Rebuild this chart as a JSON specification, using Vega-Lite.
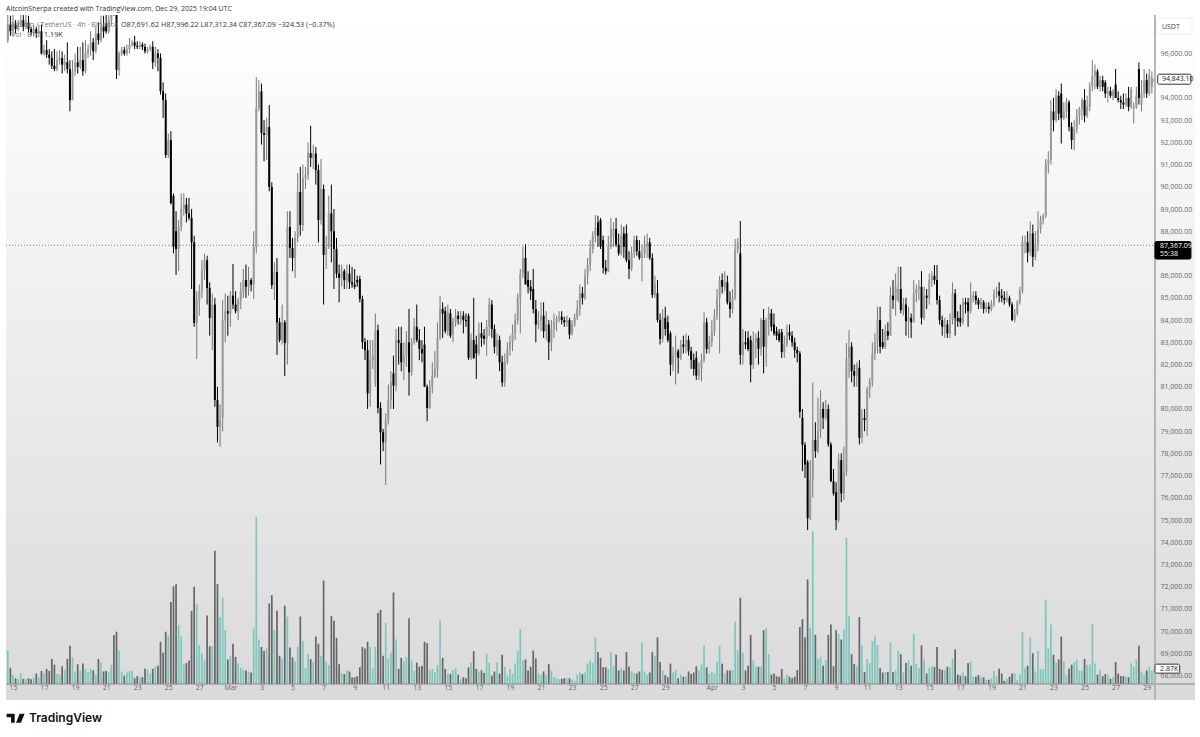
{"$schema":"https://vega.github.io/schema/vega-lite/v6.json","width":1189,"height":685,"padding":{"left":6,"top":15,"right":5,"bottom":37},"autosize":"none","background":"white","view":{"stroke":null},"title":{"text":"AltcoinSherpa created with TradingView.com, Dec 29, 2025 19:04 UTC","anchor":"start","frame":"group","offset":2,"fontSize":7,"font":"Open Sans","fontWeight":"normal","color":"#333333"},
"datasets":{"candles":[
{"t":"2025-02-14T16:00","o":96600,"h":98000,"l":96470,"c":97300,"v":6.4},
{"t":"2025-02-14T20:00","o":97300,"h":97700,"l":96800,"c":97000,"v":3.1},
{"t":"2025-02-15T00:00","o":97000,"h":97800,"l":96800,"c":97300,"v":1.7},
{"t":"2025-02-15T04:00","o":97300,"h":97500,"l":96900,"c":97100,"v":1.1},
{"t":"2025-02-15T08:00","o":97100,"h":97500,"l":97000,"c":97300,"v":1.0},
{"t":"2025-02-15T12:00","o":97300,"h":97900,"l":97200,"c":97500,"v":2.1},
{"t":"2025-02-15T16:00","o":97500,"h":97800,"l":97000,"c":97200,"v":1.0},
{"t":"2025-02-15T20:00","o":97200,"h":97800,"l":97100,"c":97400,"v":1.0},
{"t":"2025-02-16T00:00","o":97400,"h":97700,"l":96950,"c":97100,"v":1.1},
{"t":"2025-02-16T04:00","o":97100,"h":97200,"l":96800,"c":96950,"v":0.9},
{"t":"2025-02-16T08:00","o":96950,"h":97300,"l":96800,"c":97100,"v":1.3},
{"t":"2025-02-16T12:00","o":97100,"h":97200,"l":96700,"c":96900,"v":2.0},
{"t":"2025-02-16T16:00","o":96900,"h":97300,"l":96800,"c":97000,"v":1.3},
{"t":"2025-02-16T20:00","o":97000,"h":97300,"l":95950,"c":96000,"v":2.5},
{"t":"2025-02-17T00:00","o":96000,"h":96400,"l":95900,"c":96150,"v":2.0},
{"t":"2025-02-17T04:00","o":96150,"h":96600,"l":95800,"c":95950,"v":2.9},
{"t":"2025-02-17T08:00","o":95950,"h":96200,"l":95500,"c":95800,"v":2.5},
{"t":"2025-02-17T12:00","o":95800,"h":96100,"l":95300,"c":95450,"v":4.8},
{"t":"2025-02-17T16:00","o":95450,"h":96200,"l":95200,"c":95300,"v":3.7},
{"t":"2025-02-17T20:00","o":95300,"h":96100,"l":95200,"c":95700,"v":1.9},
{"t":"2025-02-18T00:00","o":95700,"h":96150,"l":95500,"c":95800,"v":1.8},
{"t":"2025-02-18T04:00","o":95800,"h":96100,"l":95100,"c":95500,"v":3.4},
{"t":"2025-02-18T08:00","o":95500,"h":95950,"l":95200,"c":95600,"v":2.7},
{"t":"2025-02-18T12:00","o":95600,"h":96500,"l":95100,"c":95300,"v":4.8},
{"t":"2025-02-18T16:00","o":95300,"h":95700,"l":93400,"c":93900,"v":7.3},
{"t":"2025-02-18T20:00","o":93900,"h":95700,"l":93900,"c":95200,"v":5.1},
{"t":"2025-02-19T00:00","o":95200,"h":96000,"l":95000,"c":95600,"v":2.4},
{"t":"2025-02-19T04:00","o":95600,"h":96300,"l":95100,"c":95400,"v":3.8},
{"t":"2025-02-19T08:00","o":95400,"h":96300,"l":95300,"c":95700,"v":2.6},
{"t":"2025-02-19T12:00","o":95700,"h":96500,"l":95000,"c":95200,"v":3.9},
{"t":"2025-02-19T16:00","o":95200,"h":96600,"l":95100,"c":96000,"v":2.9},
{"t":"2025-02-19T20:00","o":96000,"h":96400,"l":95800,"c":96200,"v":2.3},
{"t":"2025-02-20T00:00","o":96200,"h":97000,"l":95900,"c":96500,"v":2.9},
{"t":"2025-02-20T04:00","o":96500,"h":96700,"l":95700,"c":96100,"v":2.6},
{"t":"2025-02-20T08:00","o":96100,"h":97200,"l":96000,"c":96900,"v":1.8},
{"t":"2025-02-20T12:00","o":96900,"h":97400,"l":96400,"c":96600,"v":4.8},
{"t":"2025-02-20T16:00","o":96600,"h":97700,"l":96500,"c":97200,"v":4.1},
{"t":"2025-02-20T20:00","o":97200,"h":97700,"l":96700,"c":97000,"v":2.4},
{"t":"2025-02-21T00:00","o":97300,"h":97800,"l":96900,"c":97000,"v":2.5},
{"t":"2025-02-21T04:00","o":97000,"h":98000,"l":96900,"c":97500,"v":2.2},
{"t":"2025-02-21T08:00","o":97500,"h":98500,"l":97300,"c":98000,"v":3.7},
{"t":"2025-02-21T12:00","o":98200,"h":99000,"l":97700,"c":97900,"v":9.4},
{"t":"2025-02-21T16:00","o":98000,"h":98500,"l":94850,"c":95260,"v":10},
{"t":"2025-02-21T20:00","o":95260,"h":96100,"l":95000,"c":96000,"v":6.4},
{"t":"2025-02-22T00:00","o":96000,"h":96300,"l":95900,"c":96150,"v":2.4},
{"t":"2025-02-22T04:00","o":96150,"h":96300,"l":95900,"c":96000,"v":1.6},
{"t":"2025-02-22T08:00","o":96000,"h":96400,"l":95900,"c":96200,"v":2.2},
{"t":"2025-02-22T12:00","o":96200,"h":96700,"l":96000,"c":96400,"v":2.5},
{"t":"2025-02-22T16:00","o":96400,"h":96600,"l":96300,"c":96500,"v":2.5},
{"t":"2025-02-22T20:00","o":96500,"h":96800,"l":96200,"c":96350,"v":1.1},
{"t":"2025-02-23T00:00","o":96350,"h":96550,"l":96200,"c":96300,"v":1.5},
{"t":"2025-02-23T04:00","o":96300,"h":96550,"l":96200,"c":96400,"v":1.3},
{"t":"2025-02-23T08:00","o":96400,"h":96500,"l":96150,"c":96300,"v":1.3},
{"t":"2025-02-23T12:00","o":96300,"h":96450,"l":96000,"c":96100,"v":2.9},
{"t":"2025-02-23T16:00","o":96100,"h":96300,"l":96000,"c":96200,"v":2.8},
{"t":"2025-02-23T20:00","o":96200,"h":96400,"l":96100,"c":96300,"v":2.0},
{"t":"2025-02-24T00:00","o":96300,"h":96550,"l":95300,"c":95600,"v":2.9},
{"t":"2025-02-24T04:00","o":95600,"h":96300,"l":95400,"c":96000,"v":3.3},
{"t":"2025-02-24T08:00","o":96000,"h":96200,"l":95200,"c":95800,"v":3.5},
{"t":"2025-02-24T12:00","o":95800,"h":96000,"l":94150,"c":94300,"v":8.1},
{"t":"2025-02-24T16:00","o":94300,"h":94700,"l":93100,"c":93900,"v":6.0},
{"t":"2025-02-24T20:00","o":93900,"h":94200,"l":91300,"c":91430,"v":10},
{"t":"2025-02-25T00:00","o":91430,"h":92400,"l":91300,"c":92100,"v":9.3},
{"t":"2025-02-25T04:00","o":92100,"h":92500,"l":89200,"c":89270,"v":15.7},
{"t":"2025-02-25T08:00","o":89600,"h":89700,"l":87000,"c":87300,"v":18.7},
{"t":"2025-02-25T12:00","o":88000,"h":88900,"l":86030,"c":87200,"v":19.1},
{"t":"2025-02-25T16:00","o":87200,"h":88500,"l":86200,"c":88200,"v":11.3},
{"t":"2025-02-25T20:00","o":88200,"h":89700,"l":88000,"c":89000,"v":9.1},
{"t":"2025-02-26T00:00","o":89000,"h":89700,"l":88700,"c":89200,"v":3.7},
{"t":"2025-02-26T04:00","o":89200,"h":89500,"l":88400,"c":88800,"v":4.0},
{"t":"2025-02-26T08:00","o":88800,"h":89500,"l":88500,"c":88600,"v":4.5},
{"t":"2025-02-26T12:00","o":88600,"h":89000,"l":85400,"c":87500,"v":14},
{"t":"2025-02-26T16:00","o":87500,"h":87800,"l":83700,"c":83870,"v":18.6},
{"t":"2025-02-26T20:00","o":83870,"h":85300,"l":82250,"c":84900,"v":15.3},
{"t":"2025-02-27T00:00","o":84900,"h":85600,"l":84200,"c":85300,"v":7.5},
{"t":"2025-02-27T04:00","o":85300,"h":86700,"l":85000,"c":86250,"v":5.9},
{"t":"2025-02-27T08:00","o":86250,"h":87000,"l":85800,"c":86700,"v":4.5},
{"t":"2025-02-27T12:00","o":86700,"h":86900,"l":84700,"c":85450,"v":13.1},
{"t":"2025-02-27T16:00","o":85450,"h":85700,"l":83300,"c":84100,"v":7.2},
{"t":"2025-02-27T20:00","o":84100,"h":85200,"l":82650,"c":84700,"v":7.3},
{"t":"2025-02-28T00:00","o":84700,"h":85000,"l":80100,"c":80400,"v":25.5},
{"t":"2025-02-28T04:00","o":80400,"h":81000,"l":78500,"c":79200,"v":19.1},
{"t":"2025-02-28T08:00","o":79200,"h":80200,"l":78300,"c":79500,"v":12.8},
{"t":"2025-02-28T12:00","o":79600,"h":84900,"l":79000,"c":84000,"v":16.5},
{"t":"2025-02-28T16:00","o":84000,"h":85200,"l":83000,"c":84400,"v":10.3},
{"t":"2025-02-28T20:00","o":84400,"h":85100,"l":83300,"c":84300,"v":4.7},
{"t":"2025-03-01T00:00","o":84300,"h":85300,"l":83700,"c":85100,"v":5.4},
{"t":"2025-03-01T04:00","o":85100,"h":86530,"l":84500,"c":84700,"v":7.7},
{"t":"2025-03-01T08:00","o":84700,"h":85300,"l":84300,"c":84400,"v":5.2},
{"t":"2025-03-01T12:00","o":84400,"h":85000,"l":84000,"c":84900,"v":3.9},
{"t":"2025-03-01T16:00","o":84900,"h":85700,"l":84500,"c":85300,"v":3.1},
{"t":"2025-03-01T20:00","o":85300,"h":86300,"l":85000,"c":85800,"v":2.7},
{"t":"2025-03-02T00:00","o":85800,"h":86500,"l":85000,"c":85500,"v":2.6},
{"t":"2025-03-02T04:00","o":85500,"h":86400,"l":85100,"c":85800,"v":2.4},
{"t":"2025-03-02T08:00","o":85800,"h":85900,"l":85300,"c":85600,"v":2.2},
{"t":"2025-03-02T12:00","o":85600,"h":88000,"l":84950,"c":87300,"v":10.6},
{"t":"2025-03-02T16:00","o":87300,"h":94940,"l":87000,"c":93550,"v":32},
{"t":"2025-03-02T20:00","o":93550,"h":94800,"l":93400,"c":94300,"v":8.5},
{"t":"2025-03-03T00:00","o":94300,"h":94650,"l":91900,"c":92420,"v":7.1},
{"t":"2025-03-03T04:00","o":92420,"h":93000,"l":91150,"c":92330,"v":6.3},
{"t":"2025-03-03T08:00","o":92330,"h":93100,"l":91200,"c":92700,"v":6.8},
{"t":"2025-03-03T12:00","o":92700,"h":93680,"l":89800,"c":89990,"v":15.4},
{"t":"2025-03-03T16:00","o":89990,"h":90200,"l":85400,"c":85580,"v":17},
{"t":"2025-03-03T20:00","o":85580,"h":86600,"l":84900,"c":86170,"v":10.3},
{"t":"2025-03-04T00:00","o":86170,"h":86800,"l":82430,"c":83900,"v":14},
{"t":"2025-03-04T04:00","o":83900,"h":84100,"l":83000,"c":83100,"v":5.4},
{"t":"2025-03-04T08:00","o":83100,"h":84700,"l":82900,"c":83900,"v":4.8},
{"t":"2025-03-04T12:00","o":83900,"h":84000,"l":81480,"c":82970,"v":15},
{"t":"2025-03-04T16:00","o":82970,"h":88900,"l":82000,"c":88190,"v":12.9},
{"t":"2025-03-04T20:00","o":88190,"h":88900,"l":86800,"c":87240,"v":7},
{"t":"2025-03-05T00:00","o":87240,"h":87700,"l":86200,"c":86800,"v":5.1},
{"t":"2025-03-05T04:00","o":86800,"h":88000,"l":85900,"c":87700,"v":4.3},
{"t":"2025-03-05T08:00","o":87700,"h":90620,"l":87500,"c":89770,"v":7.1},
{"t":"2025-03-05T12:00","o":89770,"h":90890,"l":87800,"c":88280,"v":12.9},
{"t":"2025-03-05T16:00","o":88280,"h":91000,"l":88000,"c":90400,"v":8.2},
{"t":"2025-03-05T20:00","o":90400,"h":90900,"l":89900,"c":90530,"v":3.1},
{"t":"2025-03-06T00:00","o":90530,"h":92000,"l":90300,"c":91520,"v":5.7},
{"t":"2025-03-06T04:00","o":91520,"h":92750,"l":90900,"c":91300,"v":4.8},
{"t":"2025-03-06T08:00","o":91300,"h":91900,"l":90800,"c":91500,"v":4.2},
{"t":"2025-03-06T12:00","o":91500,"h":91800,"l":90100,"c":90750,"v":9.1},
{"t":"2025-03-06T16:00","o":90750,"h":91000,"l":87500,"c":88500,"v":7.7},
{"t":"2025-03-06T20:00","o":88500,"h":91250,"l":88300,"c":89900,"v":5.4},
{"t":"2025-03-07T00:00","o":89900,"h":90100,"l":84700,"c":86930,"v":19.8},
{"t":"2025-03-07T04:00","o":86930,"h":87800,"l":86300,"c":87300,"v":4.2},
{"t":"2025-03-07T08:00","o":87300,"h":89600,"l":87200,"c":88800,"v":3.6},
{"t":"2025-03-07T12:00","o":88800,"h":90100,"l":86600,"c":88000,"v":13},
{"t":"2025-03-07T16:00","o":88000,"h":89000,"l":85400,"c":87200,"v":12.1},
{"t":"2025-03-07T20:00","o":87200,"h":87700,"l":85900,"c":86100,"v":8.8},
{"t":"2025-03-08T00:00","o":86100,"h":86500,"l":84800,"c":85900,"v":3.8},
{"t":"2025-03-08T04:00","o":85900,"h":86500,"l":85500,"c":86200,"v":2.1},
{"t":"2025-03-08T08:00","o":86200,"h":86300,"l":85400,"c":85800,"v":1.9},
{"t":"2025-03-08T12:00","o":85800,"h":86500,"l":85400,"c":86100,"v":2.7},
{"t":"2025-03-08T16:00","o":86100,"h":86500,"l":85400,"c":85700,"v":2.4},
{"t":"2025-03-08T20:00","o":85700,"h":86400,"l":85450,"c":85600,"v":1.3},
{"t":"2025-03-09T00:00","o":85600,"h":86300,"l":85400,"c":85500,"v":1.3},
{"t":"2025-03-09T04:00","o":85800,"h":86000,"l":85500,"c":85700,"v":1.5},
{"t":"2025-03-09T08:00","o":85850,"h":86000,"l":84800,"c":84950,"v":3.2},
{"t":"2025-03-09T12:00","o":84950,"h":85100,"l":82700,"c":83010,"v":7.1},
{"t":"2025-03-09T16:00","o":83010,"h":83200,"l":82200,"c":82650,"v":6.8},
{"t":"2025-03-09T20:00","o":82650,"h":83100,"l":80000,"c":80700,"v":8.1},
{"t":"2025-03-10T00:00","o":80700,"h":83100,"l":80100,"c":82200,"v":7.1},
{"t":"2025-03-10T04:00","o":82200,"h":83100,"l":81800,"c":82400,"v":3},
{"t":"2025-03-10T08:00","o":81200,"h":84300,"l":81000,"c":83550,"v":7.1},
{"t":"2025-03-10T12:00","o":83550,"h":83800,"l":79800,"c":80050,"v":13.6},
{"t":"2025-03-10T16:00","o":80050,"h":80300,"l":77500,"c":78950,"v":14.2},
{"t":"2025-03-10T20:00","o":78950,"h":79100,"l":78100,"c":78500,"v":5.4},
{"t":"2025-03-11T00:00","o":78500,"h":79800,"l":76580,"c":79500,"v":11.7},
{"t":"2025-03-11T04:00","o":79500,"h":81100,"l":79300,"c":80400,"v":4.9},
{"t":"2025-03-11T08:00","o":80400,"h":81700,"l":80000,"c":81200,"v":6},
{"t":"2025-03-11T12:00","o":81600,"h":82400,"l":80000,"c":81050,"v":17.5},
{"t":"2025-03-11T16:00","o":81050,"h":83600,"l":80800,"c":83100,"v":8.5},
{"t":"2025-03-11T20:00","o":83100,"h":83700,"l":82000,"c":82970,"v":2.9},
{"t":"2025-03-12T00:00","o":82970,"h":83700,"l":81700,"c":82100,"v":5},
{"t":"2025-03-12T04:00","o":82100,"h":83000,"l":81300,"c":82400,"v":4.3},
{"t":"2025-03-12T08:00","o":82400,"h":83500,"l":81900,"c":83000,"v":5.2},
{"t":"2025-03-12T12:00","o":83000,"h":84500,"l":80600,"c":81650,"v":12.6},
{"t":"2025-03-12T16:00","o":81650,"h":83200,"l":81500,"c":83000,"v":4.5},
{"t":"2025-03-12T20:00","o":83000,"h":84100,"l":82900,"c":83700,"v":2.5},
{"t":"2025-03-13T00:00","o":83700,"h":84700,"l":83000,"c":83100,"v":4.1},
{"t":"2025-03-13T04:00","o":83100,"h":83600,"l":82200,"c":82700,"v":3.3},
{"t":"2025-03-13T08:00","o":82700,"h":83100,"l":82100,"c":82500,"v":3.5},
{"t":"2025-03-13T12:00","o":82900,"h":83700,"l":81000,"c":81000,"v":8.1},
{"t":"2025-03-13T16:00","o":81000,"h":81100,"l":79450,"c":80050,"v":7.8},
{"t":"2025-03-13T20:00","o":80050,"h":81300,"l":80000,"c":81000,"v":2.7},
{"t":"2025-03-14T00:00","o":81000,"h":82100,"l":80700,"c":81500,"v":2.9},
{"t":"2025-03-14T04:00","o":81500,"h":82600,"l":81400,"c":81800,"v":2.3},
{"t":"2025-03-14T08:00","o":81800,"h":83900,"l":81400,"c":83200,"v":3.6},
{"t":"2025-03-14T12:00","o":83200,"h":85100,"l":83100,"c":84500,"v":12.1},
{"t":"2025-03-14T16:00","o":84500,"h":84800,"l":83200,"c":84300,"v":5},
{"t":"2025-03-14T20:00","o":84400,"h":84600,"l":83400,"c":83500,"v":2.9},
{"t":"2025-03-15T00:00","o":83500,"h":84700,"l":83300,"c":84350,"v":2},
{"t":"2025-03-15T04:00","o":84300,"h":84500,"l":83200,"c":83300,"v":1.9},
{"t":"2025-03-15T08:00","o":83400,"h":84100,"l":83000,"c":83900,"v":2.7},
{"t":"2025-03-15T12:00","o":83900,"h":84500,"l":83700,"c":84200,"v":3},
{"t":"2025-03-15T16:00","o":84200,"h":84400,"l":83800,"c":84050,"v":1.8},
{"t":"2025-03-15T20:00","o":84050,"h":84400,"l":83800,"c":84200,"v":0.9},
{"t":"2025-03-16T00:00","o":84200,"h":84400,"l":83400,"c":84000,"v":1.3},
{"t":"2025-03-16T04:00","o":84000,"h":84300,"l":83700,"c":83950,"v":1.1},
{"t":"2025-03-16T08:00","o":84200,"h":84300,"l":82200,"c":82300,"v":3.2},
{"t":"2025-03-16T12:00","o":82300,"h":83400,"l":82200,"c":83100,"v":4.1},
{"t":"2025-03-16T16:00","o":83100,"h":85000,"l":82250,"c":82300,"v":6.3},
{"t":"2025-03-16T20:00","o":82900,"h":83300,"l":81350,"c":82500,"v":2.9},
{"t":"2025-03-17T00:00","o":82500,"h":83900,"l":82400,"c":83400,"v":2.4},
{"t":"2025-03-17T04:00","o":83400,"h":83900,"l":82800,"c":83200,"v":2.6},
{"t":"2025-03-17T08:00","o":83300,"h":83600,"l":82900,"c":83150,"v":2.1},
{"t":"2025-03-17T12:00","o":83150,"h":84000,"l":82400,"c":83700,"v":5.8},
{"t":"2025-03-17T16:00","o":83700,"h":85000,"l":83300,"c":84700,"v":4.1},
{"t":"2025-03-17T20:00","o":84700,"h":84900,"l":83200,"c":83600,"v":1.6},
{"t":"2025-03-18T00:00","o":83600,"h":83800,"l":82500,"c":82800,"v":2.4},
{"t":"2025-03-18T04:00","o":82800,"h":83400,"l":82400,"c":83100,"v":4.1},
{"t":"2025-03-18T08:00","o":83100,"h":83300,"l":81700,"c":82100,"v":2},
{"t":"2025-03-18T12:00","o":82100,"h":82400,"l":81000,"c":81200,"v":5.6},
{"t":"2025-03-18T16:00","o":81200,"h":82500,"l":81000,"c":82100,"v":3.3},
{"t":"2025-03-18T20:00","o":82100,"h":83000,"l":82000,"c":82700,"v":1.6},
{"t":"2025-03-19T00:00","o":82700,"h":83300,"l":82400,"c":83000,"v":2.9},
{"t":"2025-03-19T04:00","o":83000,"h":83800,"l":82600,"c":83400,"v":2},
{"t":"2025-03-19T08:00","o":83400,"h":84300,"l":83100,"c":84000,"v":3.9},
{"t":"2025-03-19T12:00","o":84000,"h":85200,"l":83800,"c":85000,"v":6.3},
{"t":"2025-03-19T16:00","o":85000,"h":86300,"l":83400,"c":86100,"v":10.5},
{"t":"2025-03-19T20:00","o":86100,"h":87300,"l":85900,"c":86800,"v":4.5},
{"t":"2025-03-20T00:00","o":86800,"h":87420,"l":85600,"c":85600,"v":4.7},
{"t":"2025-03-20T04:00","o":85800,"h":86200,"l":85200,"c":85500,"v":2.6},
{"t":"2025-03-20T08:00","o":85500,"h":85800,"l":84900,"c":85300,"v":3.3},
{"t":"2025-03-20T12:00","o":85400,"h":86300,"l":84300,"c":84500,"v":6.4},
{"t":"2025-03-20T16:00","o":84500,"h":84900,"l":83000,"c":83800,"v":4.9},
{"t":"2025-03-20T20:00","o":83800,"h":84400,"l":83600,"c":84000,"v":2},
{"t":"2025-03-21T00:00","o":84000,"h":84800,"l":83500,"c":84200,"v":1.7},
{"t":"2025-03-21T04:00","o":84200,"h":84800,"l":83200,"c":83500,"v":2.4},
{"t":"2025-03-21T08:00","o":83500,"h":84400,"l":83100,"c":83800,"v":1.7},
{"t":"2025-03-21T12:00","o":83800,"h":84000,"l":82200,"c":83000,"v":3.8},
{"t":"2025-03-21T16:00","o":83000,"h":84000,"l":82600,"c":83600,"v":2.5},
{"t":"2025-03-21T20:00","o":83600,"h":84300,"l":83200,"c":83900,"v":1.4},
{"t":"2025-03-22T00:00","o":83900,"h":84200,"l":83500,"c":84050,"v":1.1},
{"t":"2025-03-22T04:00","o":84050,"h":84400,"l":83900,"c":84150,"v":0.9},
{"t":"2025-03-22T08:00","o":84150,"h":84400,"l":83800,"c":84000,"v":1},
{"t":"2025-03-22T12:00","o":84000,"h":84150,"l":83700,"c":83900,"v":1.1},
{"t":"2025-03-22T16:00","o":83900,"h":84200,"l":83700,"c":84000,"v":1.1},
{"t":"2025-03-22T20:00","o":84000,"h":84100,"l":83150,"c":83350,"v":1.1},
{"t":"2025-03-23T00:00","o":83400,"h":84000,"l":83300,"c":83800,"v":0.8},
{"t":"2025-03-23T04:00","o":83800,"h":84300,"l":83700,"c":84100,"v":0.6},
{"t":"2025-03-23T08:00","o":84100,"h":84900,"l":84000,"c":84500,"v":1.8},
{"t":"2025-03-23T12:00","o":84500,"h":85600,"l":84200,"c":85200,"v":2.2},
{"t":"2025-03-23T16:00","o":85200,"h":85500,"l":84700,"c":85000,"v":1.9},
{"t":"2025-03-23T20:00","o":85000,"h":86300,"l":84900,"c":86000,"v":2.2},
{"t":"2025-03-24T00:00","o":86000,"h":86800,"l":85600,"c":86500,"v":3.9},
{"t":"2025-03-24T04:00","o":86500,"h":87600,"l":86200,"c":87200,"v":4.5},
{"t":"2025-03-24T08:00","o":87200,"h":88000,"l":87000,"c":87800,"v":4},
{"t":"2025-03-24T12:00","o":87800,"h":88730,"l":87500,"c":88150,"v":8.9},
{"t":"2025-03-24T16:00","o":88400,"h":88700,"l":87300,"c":87800,"v":6.1},
{"t":"2025-03-24T20:00","o":88500,"h":88600,"l":87200,"c":87300,"v":5},
{"t":"2025-03-25T00:00","o":87600,"h":87800,"l":86100,"c":86350,"v":3.2},
{"t":"2025-03-25T04:00","o":86350,"h":86700,"l":86050,"c":86200,"v":3.2},
{"t":"2025-03-25T08:00","o":86200,"h":87800,"l":86150,"c":87300,"v":2.9},
{"t":"2025-03-25T12:00","o":87300,"h":88600,"l":87200,"c":88100,"v":6.1},
{"t":"2025-03-25T16:00","o":87700,"h":88400,"l":87300,"c":88100,"v":3.5},
{"t":"2025-03-25T20:00","o":88100,"h":88600,"l":87300,"c":87400,"v":5.6},
{"t":"2025-03-26T00:00","o":87400,"h":87900,"l":86900,"c":87000,"v":2.6},
{"t":"2025-03-26T04:00","o":87000,"h":88300,"l":86900,"c":87800,"v":3.1},
{"t":"2025-03-26T08:00","o":87900,"h":88200,"l":86800,"c":87300,"v":2.6},
{"t":"2025-03-26T12:00","o":87900,"h":88300,"l":86600,"c":86700,"v":6.1},
{"t":"2025-03-26T16:00","o":86700,"h":87100,"l":85850,"c":86300,"v":3.3},
{"t":"2025-03-26T20:00","o":86300,"h":87300,"l":86200,"c":87000,"v":2.4},
{"t":"2025-03-27T00:00","o":87000,"h":87800,"l":86800,"c":87600,"v":2.1},
{"t":"2025-03-27T04:00","o":87600,"h":87800,"l":86900,"c":87100,"v":2},
{"t":"2025-03-27T08:00","o":87100,"h":87600,"l":86700,"c":86800,"v":2.4},
{"t":"2025-03-27T12:00","o":86800,"h":87400,"l":85750,"c":87000,"v":8},
{"t":"2025-03-27T16:00","o":87000,"h":87800,"l":86800,"c":87300,"v":2.4},
{"t":"2025-03-27T20:00","o":87300,"h":87900,"l":86800,"c":87500,"v":1.7},
{"t":"2025-03-28T00:00","o":87500,"h":87700,"l":86700,"c":86800,"v":2.2},
{"t":"2025-03-28T04:00","o":86790,"h":87000,"l":85000,"c":85130,"v":6.1},
{"t":"2025-03-28T08:00","o":85130,"h":86000,"l":85000,"c":85600,"v":5.4},
{"t":"2025-03-28T12:00","o":85220,"h":85800,"l":83900,"c":84000,"v":8.9},
{"t":"2025-03-28T16:00","o":84000,"h":84300,"l":82900,"c":83150,"v":4.2},
{"t":"2025-03-28T20:00","o":83150,"h":84500,"l":83000,"c":84100,"v":2.6},
{"t":"2025-03-29T00:00","o":84100,"h":84600,"l":83300,"c":83600,"v":1.7},
{"t":"2025-03-29T04:00","o":83900,"h":84200,"l":83000,"c":83100,"v":1.3},
{"t":"2025-03-29T08:00","o":83400,"h":83500,"l":81500,"c":82000,"v":3.9},
{"t":"2025-03-29T12:00","o":82000,"h":82800,"l":81700,"c":82400,"v":2.2},
{"t":"2025-03-29T16:00","o":82400,"h":83300,"l":81100,"c":82600,"v":2.7},
{"t":"2025-03-29T20:00","o":82600,"h":82700,"l":81600,"c":82300,"v":1.1},
{"t":"2025-03-30T00:00","o":82300,"h":83100,"l":82200,"c":82900,"v":1.8},
{"t":"2025-03-30T04:00","o":82900,"h":83300,"l":82500,"c":82800,"v":1.4},
{"t":"2025-03-30T08:00","o":82800,"h":83400,"l":82500,"c":83100,"v":1.5},
{"t":"2025-03-30T12:00","o":83100,"h":83300,"l":82400,"c":82600,"v":2.4},
{"t":"2025-03-30T16:00","o":82600,"h":82800,"l":81800,"c":82200,"v":1.9},
{"t":"2025-03-30T20:00","o":82200,"h":82500,"l":81500,"c":81800,"v":2.2},
{"t":"2025-03-31T00:00","o":82300,"h":82600,"l":81310,"c":81500,"v":3.4},
{"t":"2025-03-31T04:00","o":81500,"h":82100,"l":81300,"c":81800,"v":2.6},
{"t":"2025-03-31T08:00","o":81800,"h":82500,"l":81250,"c":82200,"v":3.7},
{"t":"2025-03-31T12:00","o":82200,"h":84350,"l":82100,"c":83900,"v":7.4},
{"t":"2025-03-31T16:00","o":83900,"h":84100,"l":82500,"c":82700,"v":3.2},
{"t":"2025-03-31T20:00","o":82700,"h":83300,"l":82500,"c":83000,"v":2},
{"t":"2025-04-01T00:00","o":83000,"h":84000,"l":82800,"c":83500,"v":2.3},
{"t":"2025-04-01T04:00","o":83500,"h":84500,"l":83300,"c":84200,"v":2},
{"t":"2025-04-01T08:00","o":84200,"h":85400,"l":84000,"c":85000,"v":4.3},
{"t":"2025-04-01T12:00","o":85000,"h":86000,"l":82500,"c":85800,"v":7.3},
{"t":"2025-04-01T16:00","o":85800,"h":86100,"l":85200,"c":85500,"v":3.9},
{"t":"2025-04-01T20:00","o":85500,"h":86200,"l":85300,"c":85700,"v":2},
{"t":"2025-04-02T00:00","o":85700,"h":86000,"l":84700,"c":84800,"v":2.6},
{"t":"2025-04-02T04:00","o":84800,"h":85300,"l":84100,"c":84500,"v":2.6},
{"t":"2025-04-02T08:00","o":84500,"h":85400,"l":84300,"c":85000,"v":2.7},
{"t":"2025-04-02T12:00","o":85000,"h":87650,"l":84900,"c":87200,"v":11.9},
{"t":"2025-04-02T16:00","o":87200,"h":87700,"l":87000,"c":87500,"v":6.5},
{"t":"2025-04-02T20:00","o":87000,"h":88460,"l":82000,"c":82430,"v":16.5},
{"t":"2025-04-03T00:00","o":82430,"h":83600,"l":82000,"c":83000,"v":6},
{"t":"2025-04-03T04:00","o":83000,"h":83500,"l":82700,"c":82900,"v":2.6},
{"t":"2025-04-03T08:00","o":83200,"h":83500,"l":82600,"c":82700,"v":3.5},
{"t":"2025-04-03T12:00","o":83100,"h":83300,"l":81200,"c":81980,"v":9.4},
{"t":"2025-04-03T16:00","o":81980,"h":83500,"l":81800,"c":83000,"v":4.5},
{"t":"2025-04-03T20:00","o":83000,"h":83400,"l":82300,"c":83200,"v":3.3},
{"t":"2025-04-04T00:00","o":83200,"h":83500,"l":82000,"c":82700,"v":3.3},
{"t":"2025-04-04T04:00","o":82700,"h":84100,"l":82400,"c":84000,"v":3.3},
{"t":"2025-04-04T08:00","o":84000,"h":84500,"l":81600,"c":82800,"v":10.3},
{"t":"2025-04-04T12:00","o":82800,"h":84100,"l":81900,"c":84000,"v":10.7},
{"t":"2025-04-04T16:00","o":84000,"h":84600,"l":83300,"c":84300,"v":5.7},
{"t":"2025-04-04T20:00","o":84300,"h":84500,"l":83500,"c":83700,"v":1.8},
{"t":"2025-04-05T00:00","o":83800,"h":84300,"l":83300,"c":83400,"v":2},
{"t":"2025-04-05T04:00","o":83500,"h":83700,"l":83100,"c":83300,"v":1.5},
{"t":"2025-04-05T08:00","o":83400,"h":83600,"l":83000,"c":83100,"v":1.4},
{"t":"2025-04-05T12:00","o":83460,"h":83600,"l":82300,"c":82560,"v":2.9},
{"t":"2025-04-05T16:00","o":82560,"h":83300,"l":82300,"c":82900,"v":1.1},
{"t":"2025-04-05T20:00","o":82900,"h":83800,"l":82800,"c":83450,"v":1.8},
{"t":"2025-04-06T00:00","o":83450,"h":83800,"l":83100,"c":83300,"v":1.4},
{"t":"2025-04-06T04:00","o":83300,"h":83500,"l":82800,"c":83000,"v":1.1},
{"t":"2025-04-06T08:00","o":83000,"h":83200,"l":82300,"c":82650,"v":1.4},
{"t":"2025-04-06T12:00","o":82650,"h":82800,"l":82100,"c":82500,"v":2.7},
{"t":"2025-04-06T16:00","o":82500,"h":82600,"l":79600,"c":79870,"v":10.9},
{"t":"2025-04-06T20:00","o":79600,"h":80000,"l":77200,"c":78380,"v":12.4},
{"t":"2025-04-07T00:00","o":78380,"h":78500,"l":76900,"c":77500,"v":8.9},
{"t":"2025-04-07T04:00","o":77610,"h":77700,"l":74550,"c":75090,"v":20},
{"t":"2025-04-07T08:00","o":75090,"h":77700,"l":75000,"c":76800,"v":10.7},
{"t":"2025-04-07T12:00","o":76800,"h":81200,"l":76000,"c":78600,"v":29.2},
{"t":"2025-04-07T16:00","o":78600,"h":79400,"l":77800,"c":78100,"v":9.4},
{"t":"2025-04-07T20:00","o":78100,"h":80500,"l":78000,"c":79000,"v":4.8},
{"t":"2025-04-08T00:00","o":79000,"h":80850,"l":78700,"c":80000,"v":5.2},
{"t":"2025-04-08T04:00","o":80000,"h":80300,"l":79100,"c":79600,"v":3.5},
{"t":"2025-04-08T08:00","o":79600,"h":80400,"l":79500,"c":80000,"v":4.6},
{"t":"2025-04-08T12:00","o":80000,"h":80200,"l":78300,"c":78400,"v":9.4},
{"t":"2025-04-08T16:00","o":78400,"h":78500,"l":76700,"c":76750,"v":11.4},
{"t":"2025-04-08T20:00","o":76750,"h":77300,"l":76100,"c":76200,"v":3.4},
{"t":"2025-04-09T00:00","o":76250,"h":76700,"l":74550,"c":75000,"v":10.3},
{"t":"2025-04-09T04:00","o":75000,"h":78000,"l":74900,"c":77700,"v":9.6},
{"t":"2025-04-09T08:00","o":77700,"h":78000,"l":75800,"c":76200,"v":8.5},
{"t":"2025-04-09T12:00","o":76200,"h":78300,"l":75900,"c":77200,"v":10.5},
{"t":"2025-04-09T16:00","o":77200,"h":82970,"l":77000,"c":82300,"v":28},
{"t":"2025-04-09T20:00","o":82300,"h":83550,"l":81400,"c":82800,"v":13},
{"t":"2025-04-10T00:00","o":82800,"h":83000,"l":81200,"c":81700,"v":5.7},
{"t":"2025-04-10T04:00","o":81700,"h":82000,"l":81000,"c":81500,"v":3.8},
{"t":"2025-04-10T08:00","o":81500,"h":82100,"l":81000,"c":82000,"v":3.4},
{"t":"2025-04-10T12:00","o":81850,"h":82200,"l":78400,"c":78700,"v":12.8},
{"t":"2025-04-10T16:00","o":78700,"h":80000,"l":78450,"c":79600,"v":7.3},
{"t":"2025-04-10T20:00","o":79600,"h":80000,"l":79000,"c":79500,"v":2.3},
{"t":"2025-04-11T00:00","o":79500,"h":81000,"l":78800,"c":80900,"v":4.8},
{"t":"2025-04-11T04:00","o":80900,"h":81400,"l":80500,"c":81250,"v":4},
{"t":"2025-04-11T08:00","o":81250,"h":83000,"l":81000,"c":82500,"v":8.2},
{"t":"2025-04-11T12:00","o":82500,"h":83400,"l":82200,"c":83000,"v":9.1},
{"t":"2025-04-11T16:00","o":83000,"h":84600,"l":82500,"c":84000,"v":7.4},
{"t":"2025-04-11T20:00","o":84000,"h":84600,"l":82500,"c":82800,"v":3},
{"t":"2025-04-12T00:00","o":83000,"h":83600,"l":82700,"c":82800,"v":2.2},
{"t":"2025-04-12T04:00","o":82800,"h":83800,"l":82700,"c":83500,"v":2.3},
{"t":"2025-04-12T08:00","o":83500,"h":83900,"l":83100,"c":83300,"v":2.3},
{"t":"2025-04-12T12:00","o":83300,"h":85500,"l":83300,"c":85100,"v":8},
{"t":"2025-04-12T16:00","o":85100,"h":85800,"l":84500,"c":84900,"v":2.3},
{"t":"2025-04-12T20:00","o":84900,"h":86100,"l":84200,"c":85500,"v":2.6},
{"t":"2025-04-13T00:00","o":84900,"h":86400,"l":84800,"c":85400,"v":6.4},
{"t":"2025-04-13T04:00","o":85400,"h":86400,"l":84300,"c":84450,"v":5.7},
{"t":"2025-04-13T08:00","o":84450,"h":85000,"l":84200,"c":84700,"v":2.2},
{"t":"2025-04-13T12:00","o":84700,"h":85000,"l":83300,"c":83950,"v":4},
{"t":"2025-04-13T16:00","o":83950,"h":84600,"l":83200,"c":84100,"v":4.4},
{"t":"2025-04-13T20:00","o":84100,"h":84300,"l":83200,"c":83900,"v":3.5},
{"t":"2025-04-14T00:00","o":83900,"h":85800,"l":83900,"c":85200,"v":9.6},
{"t":"2025-04-14T04:00","o":85200,"h":85600,"l":84800,"c":85400,"v":3.9},
{"t":"2025-04-14T08:00","o":85400,"h":85800,"l":84900,"c":85500,"v":3},
{"t":"2025-04-14T12:00","o":85500,"h":86200,"l":83800,"c":84100,"v":7.4},
{"t":"2025-04-14T16:00","o":84100,"h":85500,"l":84000,"c":85100,"v":4.7},
{"t":"2025-04-14T20:00","o":85100,"h":85400,"l":84500,"c":85000,"v":2},
{"t":"2025-04-15T00:00","o":85000,"h":86100,"l":84700,"c":85800,"v":3.1},
{"t":"2025-04-15T04:00","o":85800,"h":86200,"l":85500,"c":86000,"v":3.4},
{"t":"2025-04-15T08:00","o":86000,"h":86480,"l":85600,"c":85800,"v":3.3},
{"t":"2025-04-15T12:00","o":85800,"h":86480,"l":84700,"c":84900,"v":7.1},
{"t":"2025-04-15T16:00","o":84900,"h":85100,"l":83800,"c":84000,"v":2.9},
{"t":"2025-04-15T20:00","o":84000,"h":84200,"l":83300,"c":83700,"v":2.7},
{"t":"2025-04-16T00:00","o":83700,"h":84100,"l":83200,"c":83800,"v":2.7},
{"t":"2025-04-16T04:00","o":83800,"h":84000,"l":83200,"c":83400,"v":3.3},
{"t":"2025-04-16T08:00","o":83400,"h":84300,"l":83200,"c":84000,"v":3.1},
{"t":"2025-04-16T12:00","o":84000,"h":85700,"l":83800,"c":85200,"v":4.8},
{"t":"2025-04-16T16:00","o":85200,"h":85400,"l":83300,"c":84100,"v":6.6},
{"t":"2025-04-16T20:00","o":84100,"h":84400,"l":83700,"c":83950,"v":1.8},
{"t":"2025-04-17T00:00","o":84100,"h":84700,"l":83700,"c":83900,"v":1.6},
{"t":"2025-04-17T04:00","o":83900,"h":85000,"l":83800,"c":84800,"v":2.2},
{"t":"2025-04-17T08:00","o":84800,"h":85000,"l":84300,"c":84700,"v":1.5},
{"t":"2025-04-17T12:00","o":84800,"h":85000,"l":83700,"c":84400,"v":4},
{"t":"2025-04-17T16:00","o":84400,"h":85700,"l":84300,"c":85000,"v":4.3},
{"t":"2025-04-17T20:00","o":85000,"h":85300,"l":84800,"c":85100,"v":1.4},
{"t":"2025-04-18T00:00","o":85100,"h":85300,"l":84700,"c":84900,"v":1.4},
{"t":"2025-04-18T04:00","o":84900,"h":85000,"l":84500,"c":84700,"v":1.7},
{"t":"2025-04-18T08:00","o":84700,"h":85000,"l":84500,"c":84800,"v":1.3},
{"t":"2025-04-18T12:00","o":84800,"h":84900,"l":84300,"c":84500,"v":1.3},
{"t":"2025-04-18T16:00","o":84500,"h":84800,"l":84350,"c":84600,"v":0.8},
{"t":"2025-04-18T20:00","o":84600,"h":84800,"l":84300,"c":84500,"v":0.8},
{"t":"2025-04-19T00:00","o":84500,"h":84900,"l":84400,"c":84700,"v":1.1},
{"t":"2025-04-19T04:00","o":84700,"h":85400,"l":84600,"c":85200,"v":2.5},
{"t":"2025-04-19T08:00","o":85200,"h":85500,"l":85000,"c":85300,"v":1.5},
{"t":"2025-04-19T12:00","o":85300,"h":85700,"l":84800,"c":85100,"v":2.9},
{"t":"2025-04-19T16:00","o":85100,"h":85400,"l":84800,"c":85000,"v":2},
{"t":"2025-04-19T20:00","o":85000,"h":85300,"l":84700,"c":84900,"v":0.6},
{"t":"2025-04-20T00:00","o":84900,"h":85300,"l":84800,"c":85000,"v":1},
{"t":"2025-04-20T04:00","o":85000,"h":85100,"l":84600,"c":84700,"v":1.4},
{"t":"2025-04-20T08:00","o":84700,"h":84800,"l":83950,"c":84000,"v":2},
{"t":"2025-04-20T12:00","o":84000,"h":84500,"l":83900,"c":84300,"v":2},
{"t":"2025-04-20T16:00","o":84300,"h":84900,"l":84200,"c":84800,"v":0.8},
{"t":"2025-04-20T20:00","o":84800,"h":85500,"l":84700,"c":85300,"v":1.8},
{"t":"2025-04-21T00:00","o":85300,"h":87800,"l":85200,"c":87500,"v":10},
{"t":"2025-04-21T04:00","o":87500,"h":87800,"l":87000,"c":87530,"v":3.1},
{"t":"2025-04-21T08:00","o":87500,"h":88000,"l":86600,"c":87050,"v":3.5},
{"t":"2025-04-21T12:00","o":87050,"h":88450,"l":86900,"c":87900,"v":8.9},
{"t":"2025-04-21T16:00","o":87900,"h":88300,"l":86400,"c":86840,"v":5.9},
{"t":"2025-04-21T20:00","o":86840,"h":88000,"l":86700,"c":87450,"v":2.4},
{"t":"2025-04-22T00:00","o":87450,"h":88900,"l":87100,"c":88100,"v":6.3},
{"t":"2025-04-22T04:00","o":88100,"h":88700,"l":87900,"c":88500,"v":2.9},
{"t":"2025-04-22T08:00","o":88500,"h":88800,"l":88300,"c":88700,"v":2.8},
{"t":"2025-04-22T12:00","o":88700,"h":91250,"l":88600,"c":91050,"v":16.1},
{"t":"2025-04-22T16:00","o":91050,"h":91600,"l":90600,"c":91200,"v":6.8},
{"t":"2025-04-22T20:00","o":91200,"h":93900,"l":91000,"c":93400,"v":11.4},
{"t":"2025-04-23T00:00","o":93400,"h":94000,"l":92500,"c":93000,"v":5.6},
{"t":"2025-04-23T04:00","o":93000,"h":94400,"l":92900,"c":94100,"v":4.1},
{"t":"2025-04-23T08:00","o":94100,"h":94300,"l":93000,"c":93300,"v":4.7},
{"t":"2025-04-23T12:00","o":94200,"h":94650,"l":91950,"c":93100,"v":9.1},
{"t":"2025-04-23T16:00","o":93100,"h":93800,"l":93000,"c":93400,"v":4.3},
{"t":"2025-04-23T20:00","o":93400,"h":94000,"l":93100,"c":93800,"v":1.7},
{"t":"2025-04-24T00:00","o":93800,"h":93900,"l":92500,"c":92700,"v":2.9},
{"t":"2025-04-24T04:00","o":92700,"h":92900,"l":91700,"c":92100,"v":3.7},
{"t":"2025-04-24T08:00","o":92100,"h":93000,"l":91650,"c":92600,"v":4.2},
{"t":"2025-04-24T12:00","o":92600,"h":93500,"l":92400,"c":93200,"v":4.7},
{"t":"2025-04-24T16:00","o":93200,"h":93600,"l":92800,"c":93500,"v":2.6},
{"t":"2025-04-24T20:00","o":93500,"h":94000,"l":93000,"c":93900,"v":2.6},
{"t":"2025-04-25T00:00","o":93900,"h":94400,"l":92900,"c":93200,"v":4.8},
{"t":"2025-04-25T04:00","o":93200,"h":94100,"l":93100,"c":93600,"v":3.7},
{"t":"2025-04-25T08:00","o":93600,"h":94700,"l":93400,"c":94500,"v":3.7},
{"t":"2025-04-25T12:00","o":94500,"h":95700,"l":94300,"c":95000,"v":11.5},
{"t":"2025-04-25T16:00","o":95000,"h":95500,"l":94400,"c":95200,"v":3.9},
{"t":"2025-04-25T20:00","o":95200,"h":95300,"l":94400,"c":94500,"v":1.8},
{"t":"2025-04-26T00:00","o":94500,"h":95000,"l":94300,"c":94800,"v":2.7},
{"t":"2025-04-26T04:00","o":94800,"h":95000,"l":94300,"c":94500,"v":1.5},
{"t":"2025-04-26T08:00","o":94700,"h":94800,"l":94000,"c":94200,"v":1.9},
{"t":"2025-04-26T12:00","o":94200,"h":94500,"l":93800,"c":94300,"v":1.8},
{"t":"2025-04-26T16:00","o":94300,"h":94500,"l":94000,"c":94100,"v":1},
{"t":"2025-04-26T20:00","o":94100,"h":94400,"l":93900,"c":94300,"v":1.3},
{"t":"2025-04-27T00:00","o":94600,"h":95300,"l":94000,"c":94000,"v":4.2},
{"t":"2025-04-27T04:00","o":94000,"h":94300,"l":93800,"c":93900,"v":2},
{"t":"2025-04-27T08:00","o":93900,"h":94100,"l":93500,"c":93800,"v":1.5},
{"t":"2025-04-27T12:00","o":93800,"h":94200,"l":93500,"c":93700,"v":1.5},
{"t":"2025-04-27T16:00","o":93700,"h":94200,"l":93600,"c":94000,"v":1.4},
{"t":"2025-04-27T20:00","o":94000,"h":94500,"l":93400,"c":93600,"v":1.3},
{"t":"2025-04-28T00:00","o":93600,"h":94500,"l":93500,"c":94400,"v":4},
{"t":"2025-04-28T04:00","o":93500,"h":93800,"l":92850,"c":93600,"v":3.4},
{"t":"2025-04-28T08:00","o":93600,"h":94500,"l":93500,"c":94100,"v":4.7},
{"t":"2025-04-28T12:00","o":95300,"h":95600,"l":93700,"c":94000,"v":7.3},
{"t":"2025-04-28T16:00","o":93700,"h":94800,"l":93400,"c":94200,"v":2.4},
{"t":"2025-04-28T20:00","o":94200,"h":95300,"l":94000,"c":94800,"v":1.8},
{"t":"2025-04-29T00:00","o":94800,"h":95100,"l":94000,"c":94200,"v":2.6},
{"t":"2025-04-29T04:00","o":94200,"h":95300,"l":94100,"c":95000,"v":3.3},
{"t":"2025-04-29T08:00","o":94500,"h":95200,"l":94200,"c":94900,"v":2.6},
{"t":"2025-04-29T12:00","o":94700,"h":95100,"l":94600,"c":94843,"v":2.87}
],
"notes":[{"t":"2025-02-14T21:00","p":97283,"s":"Bitcoin / TetherUS · 4h · Binance"},{"t":"2025-02-14T21:00","p":96833,"s":"Vol · BTC"}],
"dark":[{"t":"2025-02-21T22:50","p":97283,"s":"O87,691.62  H87,996.22  L87,312.34  C87,367.09  −324.53 (−0.37%)"},{"t":"2025-02-17T00:00","p":96833,"s":"1.19K"}],
"tags":[{"t":"2025-04-29T17:00","t2":"2025-05-01T20:24","p":95068,"p2":94618,"f":"white","b":"#333333"},{"t":"2025-04-29T12:48","t2":"2025-05-01T20:24","p":87536,"p2":86748,"f":"black","b":"black"},{"t":"2025-04-29T12:48","t2":"2025-05-01T03:00","p":68515,"p2":68110,"f":"white","b":"#333333"},{"t":"2025-04-29T15:50","t2":"2025-05-01T22:00","p":97598,"p2":96878,"f":"white","b":"#eeeeee"}],
"tagtext":[{"t":"2025-04-29T23:30","p":94843,"s":"94,843.10","f":"#222222"},{"t":"2025-04-29T20:40","p":87333,"s":"87,367.09","f":"white"},{"t":"2025-04-29T20:40","p":86973,"s":"55:38","f":"white"},{"t":"2025-04-29T20:40","p":68310,"s":"2.87K","f":"#222222"},{"t":"2025-04-29T23:30","p":97206,"s":"USDT","f":"#444444"}]},
"layer":[
{"data":{"values":[{"k":1}]},"mark":{"type":"rect","color":{"gradient":"linear","x1":0,"y1":0,"x2":0,"y2":1,"stops":[{"offset":0,"color":"#ffffff"},{"offset":1,"color":"#dadada"}]}}},
{"layer":[
{"data":{"name":"candles"},"mark":{"type":"bar","size":1.7},"encoding":{"x":{"field":"t","type":"temporal"},"y":{"field":"v","type":"quantitative","scale":{"domain":[-3.06,128],"nice":false,"zero":false},"axis":null},"y2":{"datum":0},"color":{"condition":{"test":"datum.c>=datum.o","value":"#7cc7bd"},"value":"#666666"}}},
{"data":{"values":[{"t":"2025-02-14T13:12","t2":"2025-05-02T02:40","v":0}]},"mark":{"type":"rule","color":"#8a8a8a","strokeWidth":1},"encoding":{"x":{"field":"t","type":"temporal"},"x2":{"field":"t2"},"y":{"field":"v","type":"quantitative"}}}
]},
{"layer":[
{"data":{"values":[{"t":"2025-02-14T13:12","t2":"2025-04-29T12:48","p":87367}]},"mark":{"type":"rule","color":"#808080","strokeDash":[1,2],"strokeWidth":1},"encoding":{"x":{"field":"t","type":"temporal"},"x2":{"field":"t2"},"y":{"field":"p","type":"quantitative"}}},
{"data":{"name":"candles"},"mark":{"type":"rule","strokeWidth":1,"clip":true},"encoding":{"x":{"field":"t","type":"temporal","scale":{"domain":["2025-02-14T13:12","2025-05-02T02:40"],"nice":false,"padding":0},"title":null,"axis":{"tickCount":100,"values":[{"year":2025,"month":2,"date":15},{"year":2025,"month":2,"date":17},{"year":2025,"month":2,"date":19},{"year":2025,"month":2,"date":21},{"year":2025,"month":2,"date":23},{"year":2025,"month":2,"date":25},{"year":2025,"month":2,"date":27},{"year":2025,"month":3,"date":1},{"year":2025,"month":3,"date":3},{"year":2025,"month":3,"date":5},{"year":2025,"month":3,"date":7},{"year":2025,"month":3,"date":9},{"year":2025,"month":3,"date":11},{"year":2025,"month":3,"date":13},{"year":2025,"month":3,"date":15},{"year":2025,"month":3,"date":17},{"year":2025,"month":3,"date":19},{"year":2025,"month":3,"date":21},{"year":2025,"month":3,"date":23},{"year":2025,"month":3,"date":25},{"year":2025,"month":3,"date":27},{"year":2025,"month":3,"date":29},{"year":2025,"month":4,"date":1},{"year":2025,"month":4,"date":3},{"year":2025,"month":4,"date":5},{"year":2025,"month":4,"date":7},{"year":2025,"month":4,"date":9},{"year":2025,"month":4,"date":11},{"year":2025,"month":4,"date":13},{"year":2025,"month":4,"date":15},{"year":2025,"month":4,"date":17},{"year":2025,"month":4,"date":19},{"year":2025,"month":4,"date":21},{"year":2025,"month":4,"date":23},{"year":2025,"month":4,"date":25},{"year":2025,"month":4,"date":27},{"year":2025,"month":4,"date":29}],"labelExpr":"date(datum.value)==1?timeFormat(datum.value,'%b'):timeFormat(datum.value,'%-d')","grid":false,"domain":false,"ticks":false,"labelPadding":-13,"labelBaseline":"middle","labelFont":"Open Sans","labelFontSize":7,"labelColor":"#666666","labelOverlap":false,"labelFlush":false,"zindex":1}},"y":{"field":"h","type":"quantitative","scale":{"domain":[66901,97733],"nice":false,"zero":false},"title":null,"axis":{"orient":"right","tickCount":100,"values":[68000,69000,70000,71000,72000,73000,74000,75000,76000,77000,78000,79000,80000,81000,82000,83000,84000,85000,86000,88000,89000,90000,91000,92000,93000,94000,96000],"format":",.2f","grid":false,"domain":false,"ticks":false,"labelPadding":-35,"labelAlign":"left","labelFont":"Open Sans","labelFontSize":7,"labelColor":"#666666","labelOverlap":false,"zindex":1}},"y2":{"field":"l"},"color":{"condition":{"test":"datum.c>=datum.o","value":"#777777"},"value":"#000000"}}},
{"data":{"name":"candles"},"mark":{"type":"bar","size":2,"clip":true},"encoding":{"x":{"field":"t","type":"temporal"},"y":{"field":"o","type":"quantitative"},"y2":{"field":"c"},"color":{"condition":{"test":"datum.c>=datum.o","value":"#999999"},"value":"#000000"}}},
{"data":{"values":[{"t":"2025-04-29T12:48"}]},"mark":{"type":"rule","color":"#b5b5b5","strokeWidth":2},"encoding":{"x":{"field":"t","type":"temporal"}}},
{"data":{"name":"tags"},"mark":{"type":"rect","cornerRadius":1.5},"encoding":{"x":{"field":"t","type":"temporal"},"x2":{"field":"t2"},"y":{"field":"p","type":"quantitative"},"y2":{"field":"p2"},"fill":{"field":"f","type":"nominal","scale":null},"stroke":{"field":"b","type":"nominal","scale":null}}},
{"data":{"name":"tagtext"},"mark":{"type":"text","align":"left","baseline":"middle","font":"Open Sans","fontSize":7},"encoding":{"x":{"field":"t","type":"temporal"},"y":{"field":"p","type":"quantitative"},"text":{"field":"s"},"color":{"field":"f","type":"nominal","scale":null}}},
{"data":{"name":"notes"},"mark":{"type":"text","align":"left","baseline":"middle","font":"Open Sans","fontSize":7.2,"color":"#777777"},"encoding":{"x":{"field":"t","type":"temporal"},"y":{"field":"p","type":"quantitative"},"text":{"field":"s"}}},
{"data":{"name":"dark"},"mark":{"type":"text","align":"left","baseline":"middle","font":"Open Sans","fontSize":7.2,"color":"#333333"},"encoding":{"x":{"field":"t","type":"temporal"},"y":{"field":"p","type":"quantitative"},"text":{"field":"s"}}},
{"data":{"values":[{"t":"2025-02-16T00:40","p":66084,"s":"TradingView"}]},"mark":{"type":"text","align":"left","baseline":"middle","font":"Inter","fontSize":12,"fontWeight":600,"color":"#111111"},"encoding":{"x":{"field":"t","type":"temporal"},"y":{"field":"p","type":"quantitative"},"text":{"field":"s"}}},
{"data":{"values":[{"t":"2025-02-15T04:00","p":66084}]},"mark":{"type":"point","filled":true,"opacity":1,"size":324,"color":"#111111","shape":"M-1,-0.5H-0.1V0.5H-0.5V-0.1H-1ZM0.45,-0.5H1L0.6,0.5H0.05Z"},"encoding":{"x":{"field":"t","type":"temporal"},"y":{"field":"p","type":"quantitative"}}}
]}
],"resolve":{"scale":{"y":"independent"}}}
